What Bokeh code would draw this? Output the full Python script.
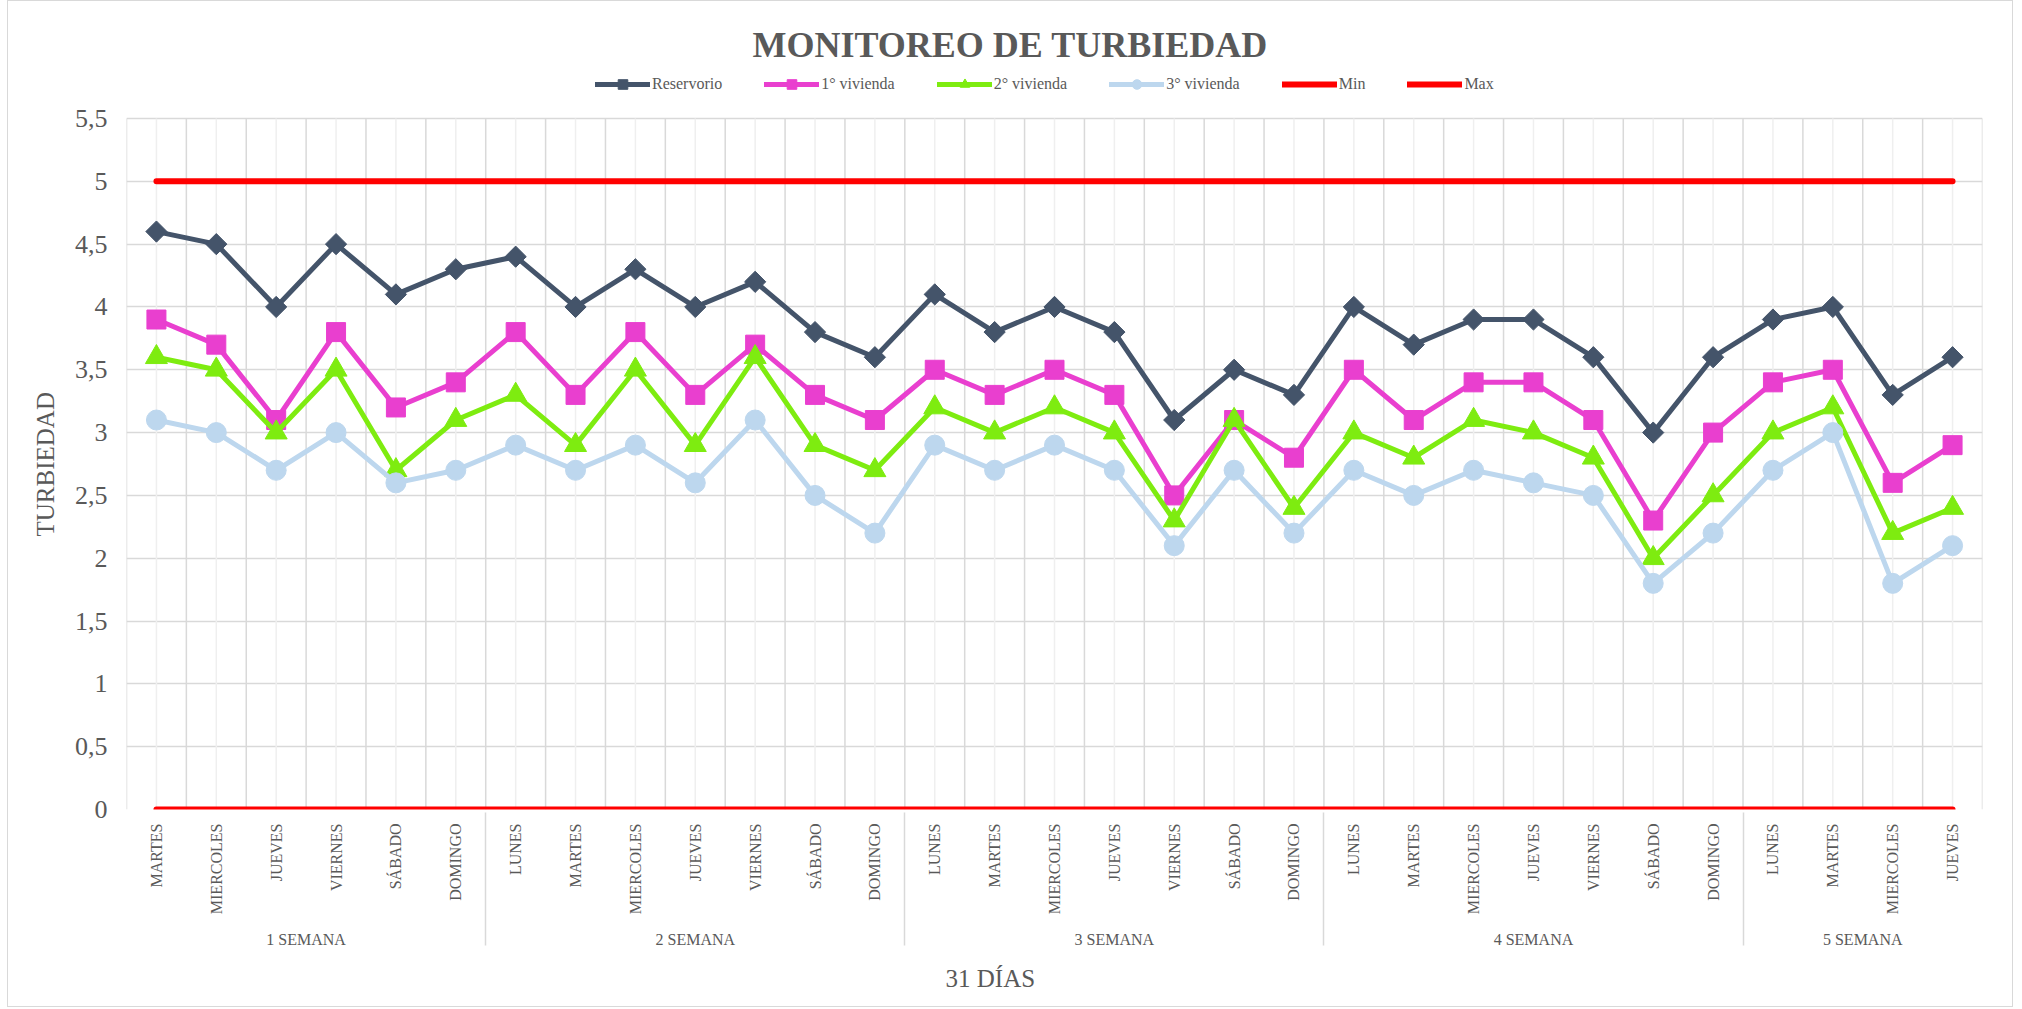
import math
from bokeh.plotting import figure
from bokeh.models import (FactorRange, FixedTicker, CustomJSTickFormatter,
                          Legend, LegendItem, Title)
from bokeh.embed import file_html
from bokeh.resources import INLINE

# ---------------- data ----------------
week_names = ["1 SEMANA", "2 SEMANA", "3 SEMANA", "4 SEMANA", "5 SEMANA"]
week_days = [
    ["MARTES", "MIERCOLES", "JUEVES", "VIERNES", "SÁBADO", "DOMINGO"],
    ["LUNES", "MARTES", "MIERCOLES", "JUEVES", "VIERNES", "SÁBADO", "DOMINGO"],
    ["LUNES", "MARTES", "MIERCOLES", "JUEVES", "VIERNES", "SÁBADO", "DOMINGO"],
    ["LUNES", "MARTES", "MIERCOLES", "JUEVES", "VIERNES", "SÁBADO", "DOMINGO"],
    ["LUNES", "MARTES", "MIERCOLES", "JUEVES"],
]

reservorio = [4.6, 4.5, 4.0, 4.5, 4.1, 4.3,
              4.4, 4.0, 4.3, 4.0, 4.2, 3.8, 3.6,
              4.1, 3.8, 4.0, 3.8, 3.1, 3.5, 3.3,
              4.0, 3.7, 3.9, 3.9, 3.6, 3.0, 3.6,
              3.9, 4.0, 3.3, 3.6]
vivienda_1 = [3.9, 3.7, 3.1, 3.8, 3.2, 3.4,
              3.8, 3.3, 3.8, 3.3, 3.7, 3.3, 3.1,
              3.5, 3.3, 3.5, 3.3, 2.5, 3.1, 2.8,
              3.5, 3.1, 3.4, 3.4, 3.1, 2.3, 3.0,
              3.4, 3.5, 2.6, 2.9]
vivienda_2 = [3.6, 3.5, 3.0, 3.5, 2.7, 3.1,
              3.3, 2.9, 3.5, 2.9, 3.6, 2.9, 2.7,
              3.2, 3.0, 3.2, 3.0, 2.3, 3.1, 2.4,
              3.0, 2.8, 3.1, 3.0, 2.8, 2.0, 2.5,
              3.0, 3.2, 2.2, 2.4]
vivienda_3 = [3.1, 3.0, 2.7, 3.0, 2.6, 2.7,
              2.9, 2.7, 2.9, 2.6, 3.1, 2.5, 2.2,
              2.9, 2.7, 2.9, 2.7, 2.1, 2.7, 2.2,
              2.7, 2.5, 2.7, 2.6, 2.5, 1.8, 2.2,
              2.7, 3.0, 1.8, 2.1]
min_limit = 0
max_limit = 5

y_ticks = [0, 0.5, 1, 1.5, 2, 2.5, 3, 3.5, 4, 4.5, 5, 5.5]

factors = [(w, d) for w, days in zip(week_names, week_days) for d in days]
n = len(factors)
min_vals = [min_limit] * n
max_vals = [max_limit] * n

GRAY_TXT = "#595959"
FONT = "Liberation Serif"

# ---------------- layout (page pixels) ----------------
CANVAS_X0, CANVAS_Y0 = 8, 1
W, H = 2006, 1007
FRAME_L, FRAME_R = 126, 1982
FRAME_T, FRAME_B = 64, 809
GRID_TOP_PX = 118              # where 5,5 sits
px_per_unit = (FRAME_B - GRID_TOP_PX) / y_ticks[-1]
y_end = y_ticks[-1] + (GRID_TOP_PX - FRAME_T) / px_per_unit

# ---------------- figure ----------------
x_range = FactorRange(factors=factors, factor_padding=0, group_padding=0,
                      subgroup_padding=0, range_padding=0)
p = figure(width=W, height=H, x_range=x_range, y_range=(0, y_end),
           output_backend="svg", toolbar_location=None,
           min_border_left=FRAME_L - CANVAS_X0,
           min_border_right=CANVAS_X0 + W - FRAME_R,
           min_border_top=FRAME_T - CANVAS_Y0,
           min_border_bottom=CANVAS_Y0 + H - FRAME_B)
p.styles = {"border": "1px solid #D9D9D9", "margin": "0px 7px"}
p.outline_line_color = None
p.background_fill_color = "white"
p.border_fill_color = "white"

# grid
p.ygrid.ticker = FixedTicker(ticks=y_ticks)
p.ygrid.grid_line_color = "#D9D9D9"
p.ygrid.grid_line_width = 1.5
p.xgrid.grid_line_color = None
p.segment(x0=factors, y0=[y_ticks[0]] * n, x1=factors, y1=[y_ticks[-1]] * n,
          line_color="#EFEFEF", line_width=1.5)
bounds = list(range(n + 1))
p.segment(x0=bounds, y0=[y_ticks[0]] * len(bounds), x1=bounds,
          y1=[y_ticks[-1]] * len(bounds), line_color="#D9D9D9", line_width=1.5)

# series
series = [
    ("Reservorio", reservorio, "#44546A", "square", 15, math.pi / 4),
    ("1° vivienda", vivienda_1, "#E93FCF", "square", 19, 0),
    ("2° vivienda", vivienda_2, "#7EEC10", "triangle", 22, 0),
    ("3° vivienda", vivienda_3, "#BDD7EE", "circle", 20, 0),
]
items = []
for name, vals, color, marker, size, angle in series:
    rl = p.line(factors, vals, line_color=color, line_width=5,
                line_cap="round", line_join="round")
    rs = p.scatter(factors, vals, marker=marker, size=size, angle=angle,
                   fill_color=color, line_color=color)
    items.append(LegendItem(label=name, renderers=[rl, rs]))

rmin = p.line(factors, min_vals, line_color="#FF0000", line_width=6, line_cap="round")
rmax = p.line(factors, max_vals, line_color="#FF0000", line_width=6, line_cap="round")
items.append(LegendItem(label="Min", renderers=[rmin]))
items.append(LegendItem(label="Max", renderers=[rmax]))

legend = Legend(items=items, orientation="horizontal",
                location=(595 - FRAME_L, FRAME_B - 84 - 12),
                glyph_width=55, glyph_height=24, label_height=16,
                label_standoff=2, spacing=42, padding=0, margin=0,
                border_line_color=None, background_fill_alpha=0,
                label_text_font=FONT, label_text_font_size="16px",
                label_text_color=GRAY_TXT)
p.add_layout(legend, "center")

# title
p.title.text = "MONITOREO DE TURBIEDAD"
p.title.text_font = FONT
p.title.text_font_size = "36px"
p.title.text_font_style = "bold"
p.title.text_color = GRAY_TXT
p.title.align = "left"
p.title.offset = 626
p.title.standoff = 0

# x axis (categories)
ax = p.xaxis[0]
ax.major_label_orientation = math.pi / 2
ax.major_label_text_font = FONT
ax.major_label_text_font_size = "16px"
ax.major_label_text_color = GRAY_TXT
ax.major_label_standoff = 14
ax.group_text_font = FONT
ax.group_text_font_size = "16px"
ax.group_text_font_style = "normal"
ax.group_text_color = GRAY_TXT
ax.separator_line_color = "#D9D9D9"
ax.separator_line_width = 1.5
ax.major_tick_line_color = None
ax.major_tick_out = 0
ax.minor_tick_line_color = None
ax.axis_line_color = None

p.add_layout(Title(text="31 DÍAS", align="left", offset=819, standoff=26,
                   vertical_align="top",
                   text_font=FONT, text_font_size="25px",
                   text_font_style="normal", text_color=GRAY_TXT), "below")

# y axis
ay = p.yaxis[0]
ay.ticker = FixedTicker(ticks=y_ticks)
ay.formatter = CustomJSTickFormatter(code="return tick.toString().replace('.', ',');")
ay.major_label_text_font = FONT
ay.major_label_text_font_size = "26px"
ay.major_label_text_color = GRAY_TXT
ay.major_label_standoff = 19
ay.major_tick_line_color = None
ay.major_tick_out = 0
ay.minor_tick_line_color = None
ay.axis_line_color = None

p.add_layout(Title(text="TURBIEDAD", align="left", offset=FRAME_B - 536,
                   standoff=26, text_font=FONT, text_font_size="25px",
                   text_font_style="normal", text_color=GRAY_TXT), "left")

open("out.html", "w").write(file_html(p, INLINE, title="Monitoreo de turbiedad"))
